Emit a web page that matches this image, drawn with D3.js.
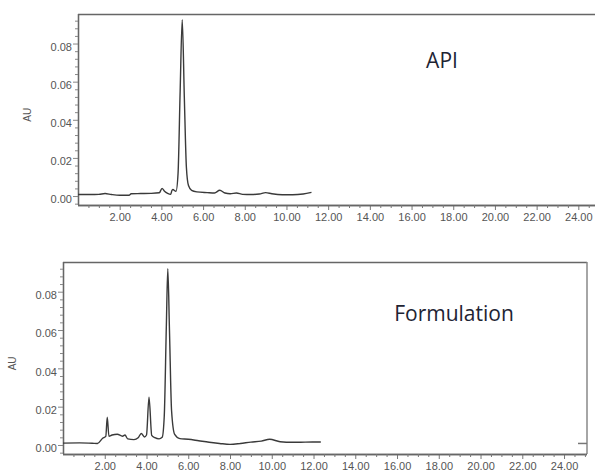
<!DOCTYPE html>
<html>
<head>
<meta charset="utf-8">
<script src="https://cdn.jsdelivr.net/npm/d3@7"></script>
<style>
  body { margin: 0; background: #fff; }
  svg { display: block; }
  .tick-label { font-family: "Liberation Sans", Arial, sans-serif; font-size: 11px; fill: #555; }
  .title { font-family: "Open Sans", sans-serif; font-size: 21px; fill: #1e2433; }
</style>
</head>
<body>
<div id="chart"></div>
<script>
// retention time (min) and absorbance (AU)
const apiTime = [0, 0.6, 1.0, 1.3, 1.6, 2.0, 2.45, 2.55, 3.0, 3.5, 3.9, 4.03, 4.15, 4.3, 4.45, 4.5, 4.55,
    4.7, 4.8, 4.9, 5.0, 5.1, 5.2, 5.3, 5.45, 5.7, 6.2, 6.55, 6.8, 7.05, 7.3, 7.6, 7.9, 8.3, 8.7, 9.0, 9.3, 9.8, 10.3, 10.8, 11.2];
const apiAU = [0.0008, 0.0008, 0.0009, 0.0013, 0.0008, 0.0004, 0.0004, 0.0012, 0.0013, 0.0014, 0.0017, 0.0040, 0.0025, 0.0014, 0.0009, 0.0028, 0.0034,
    0.0025, 0.012, 0.055, 0.0925, 0.052, 0.015, 0.0055, 0.003, 0.0022, 0.0018, 0.0016, 0.0030, 0.0016, 0.0012, 0.0016, 0.0009, 0.0008, 0.0011, 0.0018, 0.0012, 0.0007, 0.0007, 0.0011, 0.0019];

const formTime = [0, 0.8, 1.4, 1.65, 1.9, 2.05, 2.12, 2.2, 2.35, 2.6, 2.85, 2.97, 3.1, 3.4, 3.6, 3.75, 3.9, 4.0, 4.12, 4.25, 4.4,
    4.6, 4.75, 4.85, 4.95, 5.02, 5.1, 5.2, 5.35, 5.6, 6.0, 6.5, 7.0, 7.5, 8.0, 8.5, 9.0, 9.5, 9.9, 10.4, 11.0, 11.6, 12.35];
const formAU = [0.0010, 0.0011, 0.0009, 0.0008, 0.0035, 0.0045, 0.0145, 0.0045, 0.0052, 0.0056, 0.0046, 0.0052, 0.0032, 0.0028, 0.0038, 0.0060, 0.0042, 0.0052, 0.0250, 0.0050, 0.0038,
    0.0032, 0.0040, 0.0150, 0.0620, 0.0920, 0.0600, 0.0180, 0.0055, 0.0033, 0.0030, 0.0022, 0.0014, 0.0008, 0.0003, 0.0008, 0.0015, 0.0020, 0.0030, 0.0017, 0.0014, 0.0015, 0.0016];

const xTicks = [2, 4, 6, 8, 10, 12, 14, 16, 18, 20, 22, 24];
const yTicks = [0, 0.02, 0.04, 0.06, 0.08];
const titles = ["API", "Formulation"];

const width = 595, height = 473;
const svg = d3.select("#chart").append("svg")
    .attr("width", width)
    .attr("height", height);

// one panel per chromatogram
const panels = [
    { time: apiTime, au: apiAU, title: titles[0], left: 78, right: 595, top: 14, bottom: 205, xMax: 24.8, rightBorder: false, titleX: 442, titleY: 68 },
    { time: formTime, au: formAU, title: titles[1], left: 63, right: 587, top: 262, bottom: 454, xMax: 25.1, rightBorder: true, titleX: 454, titleY: 321 }
];

const frameColor = "#666";

panels.forEach(p => {
    const x = d3.scaleLinear().domain([0, p.xMax]).range([p.left, p.right]);
    const y = d3.scaleLinear().domain([-0.0047, 0.0955]).range([p.bottom, p.top]);
    const g = svg.append("g");

    // frame
    g.append("line").attr("x1", p.left).attr("x2", p.right).attr("y1", p.top + 0.5).attr("y2", p.top + 0.5)
        .attr("stroke", frameColor).attr("stroke-width", 1.5);
    if (p.rightBorder) {
        g.append("line").attr("x1", p.right).attr("x2", p.right).attr("y1", p.top).attr("y2", p.bottom)
            .attr("stroke", "#888").attr("stroke-width", 1.5);
        g.append("line").attr("x1", p.right - 9).attr("x2", p.right).attr("y1", y(0.0008)).attr("y2", y(0.0008))
            .attr("stroke", "#777").attr("stroke-width", 1.5);
    }

    // x axis
    const xAxis = d3.axisBottom(x).tickValues(xTicks).tickSize(5).tickPadding(3)
        .tickFormat(d3.format(".2f"));
    const xa = g.append("g").attr("transform", `translate(0,${p.bottom})`).call(xAxis);
    const xMinor = d3.axisBottom(x).tickValues(d3.range(0.5, p.xMax, 0.5).filter(v => v % 2 !== 0))
        .tickSize(3).tickFormat("");
    const xm = g.append("g").attr("transform", `translate(0,${p.bottom})`).call(xMinor);
    [xa, xm].forEach(a => {
        a.select(".domain").attr("stroke", frameColor).attr("stroke-width", 1.3).attr("d", `M${p.left},0.5H${p.right}`);
        a.selectAll(".tick line").attr("stroke", "#777");
    });
    xa.selectAll(".tick text").attr("class", "tick-label").attr("font-size", null).attr("font-family", null).attr("fill", null);

    // y axis
    const yAxis = d3.axisLeft(y).tickValues(yTicks).tickSize(5).tickPadding(1)
        .tickFormat(d3.format(".2f"));
    const ya = g.append("g").attr("transform", `translate(${p.left},0)`).call(yAxis);
    const yMinor = d3.axisLeft(y).tickValues(d3.range(-0.004, 0.095, 0.004).filter(v => Math.abs(v / 0.02 - Math.round(v / 0.02)) > 0.01))
        .tickSize(3).tickFormat("");
    const ym = g.append("g").attr("transform", `translate(${p.left},0)`).call(yMinor);
    [ya, ym].forEach(a => {
        a.select(".domain").attr("stroke", frameColor).attr("stroke-width", 1.3).attr("d", `M0.5,${p.top}V${p.bottom}`);
        a.selectAll(".tick line").attr("stroke", "#888");
    });
    ya.selectAll(".tick text").attr("class", "tick-label").attr("font-size", null).attr("font-family", null).attr("fill", null)
        .attr("dy", "0.62em");

    // axis title
    g.append("text")
        .attr("class", "tick-label")
        .attr("transform", `translate(${p.left - 47},${(y(0) + y(0.08)) / 2 - 5}) rotate(-90)`)
        .attr("text-anchor", "middle")
        .style("font-size", "10px")
        .text("AU");

    // trace
    const line = d3.line()
        .x((d, i) => x(p.time[i]))
        .y(d => y(d))
        .curve(d3.curveMonotoneX);
    g.append("path")
        .datum(p.au)
        .attr("d", line)
        .attr("fill", "none")
        .attr("stroke", "#3a3a3a")
        .attr("stroke-width", 1.4);

    g.append("text")
        .attr("class", "title")
        .attr("x", p.titleX)
        .attr("y", p.titleY)
        .attr("text-anchor", "middle")
        .text(p.title);
});
</script>
</body>
</html>
